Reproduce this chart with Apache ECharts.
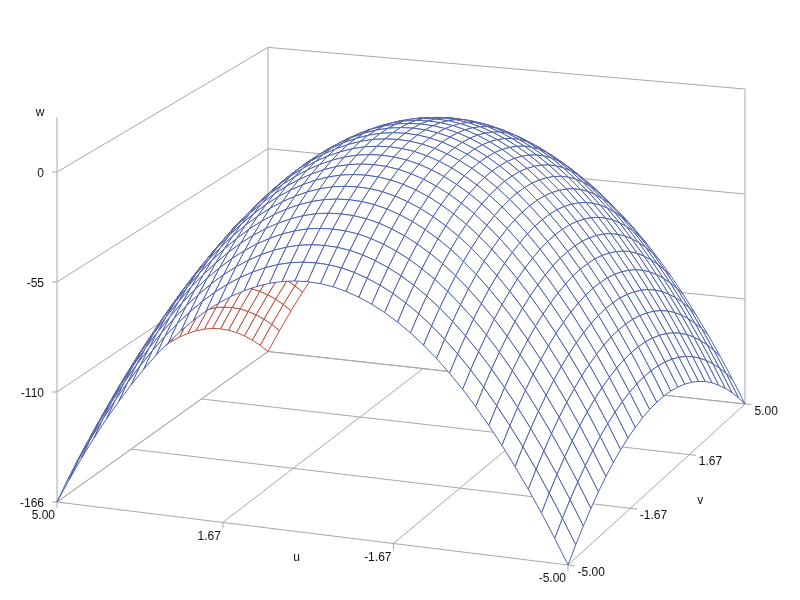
<!DOCTYPE html>
<html><head><meta charset="utf-8">
<style>html,body{margin:0;padding:0;background:#fff}#c{width:800px;height:600px}</style>
<script src="https://cdn.jsdelivr.net/npm/echarts@6/dist/echarts.min.js"></script>
</head><body><div id="c"></div>
<script>
// ---- data ----
const uValues = [5,4.75,4.5,4.25,4,3.75,3.5,3.25,3,2.75,2.5,2.25,2,1.75,1.5,1.25,1,0.75,0.5,0.25,0,-0.25,-0.5,-0.75,-1,-1.25,-1.5,-1.75,-2,-2.25,-2.5,-2.75,-3,-3.25,-3.5,-3.75,-4,-4.25,-4.5,-4.75,-5];
const vValues = [-5,-4.6,-4.2,-3.8,-3.4,-3,-2.6,-2.2,-1.8,-1.4,-1,-0.6,-0.2,0.2,0.6,1,1.4,1.8,2.2,2.6,3,3.4,3.8,4.2,4.6,5];
const wPeak = -0.5;
// how far the surface falls below its peak along each axis
const uDrop = [124,111.9,100.4,89.6,79.4,69.8,60.8,52.4,44.6,37.5,31,25.1,19.8,15.2,11.2,7.8,5,2.8,1.2,0.3,0,0.3,1.2,2.8,5,7.8,11.2,15.2,19.8,25.1,31,37.5,44.6,52.4,60.8,69.8,79.4,89.6,100.4,111.9,124];
const vDrop = [41.5,35.1,29.3,24,19.2,14.9,11.2,8,5.4,3.3,1.7,0.6,0.1,0.1,0.6,1.7,3.3,5.4,8,11.2,14.9,19.2,24,29.3,35.1,41.5];
const uTicks = [5,1.67,-1.67,-5];
const vTicks = [-5,-1.67,1.67,5];
const wTicks = [-166,-110.67,-55.33,0];
const uTickLabels = ['5.00','1.67','-1.67','-5.00'];
const vTickLabels = ['-5.00','-1.67','1.67','5.00'];
const wTickLabels = ['-166','-110','-55','0'];
const wAxisTop = 27.7;

// ---- camera: where the floor corners and wall height land ----
const cam = {A:[57,502],B:[568,565],C:[745,404],D:[268,351.5],height:330};
const COL = {top:'#4f62ac',under:'#bf4e3c',grid:'#a8a8a8',text:'#111'};
const FONT = '12px "Liberation Sans", Arial, sans-serif';

const sx=cam.A[0]-cam.B[0]+cam.C[0]-cam.D[0], sy=cam.A[1]-cam.B[1]+cam.C[1]-cam.D[1];
const dx1=cam.B[0]-cam.C[0], dx2=cam.D[0]-cam.C[0], dy1=cam.B[1]-cam.C[1], dy2=cam.D[1]-cam.C[1];
const det=dx1*dy2-dx2*dy1;
const G=(sx*dy2-dx2*sy)/det, H=(dx1*sy-sx*dy1)/det;
const P=[cam.A[0],cam.B[0]-cam.A[0]+G*cam.B[0],cam.D[0]-cam.A[0]+H*cam.D[0]];
const Q=[cam.A[1],cam.B[1]-cam.A[1]+G*cam.B[1],cam.D[1]-cam.A[1]+H*cam.D[1]];
function depth(u,v){return 1+G*(5-u)/10+H*(v+5)/10;}
function project(u,v,w){
  const a=(5-u)/10,b=(v+5)/10,h=(w+166)/166,W=1+G*a+H*b;
  return [(P[0]+P[1]*a+P[2]*b)/W,(Q[0]+Q[1]*a+Q[2]*b-cam.height*h)/W];
}

// ---- surface table ----
const wGrid = uDrop.map(du=>vDrop.map(dv=>wPeak-du-dv));
const cells=[];
for(let i=0;i<uValues.length-1;i++)for(let j=0;j<vValues.length-1;j++)cells.push([i,j]);
const cellDepth=c=>depth((uValues[c[0]]+uValues[c[0]+1])/2,(vValues[c[1]]+vValues[c[1]+1])/2);
cells.sort((p,q)=>cellDepth(q)-cellDepth(p));

// ---- frame segments: [u1,v1,w1,u2,v2,w2] ----
const W0=wTicks[0], WT=wTicks[3], U0=uTicks[0], U1=uTicks[3], V0=vTicks[0], V1=vTicks[3];
const seg=[];
wTicks.forEach(w=>{seg.push([U0,V0,w,U0,V1,w]);seg.push([U0,V1,w,U1,V1,w]);});
uTicks.forEach(u=>seg.push([u,V0,W0,u,V1,W0]));
vTicks.forEach(v=>seg.push([U0,v,W0,U1-0.13,v,W0]));
seg.push([U0,V1,W0,U0,V1,WT]);
seg.push([U1,V1,W0,U1,V1,WT]);
seg.push([U0,V0,W0,U0,V0,wAxisTop]);

// ---- small pixel-offset marks and texts, anchored to projected ticks ----
const ticks=[];
uTicks.forEach(u=>ticks.push({p:[u,V0,W0],dx:0,dy:6}));
wTicks.forEach(w=>ticks.push({p:[U0,V0,w],dx:-5,dy:0}));
const texts=[];
uTicks.forEach((u,i)=>texts.push({p:[u,V0,W0],dx:-2,dy:14,t:uTickLabels[i],al:'right'}));
vTicks.forEach((v,i)=>texts.push({p:[U1,v,W0],dx:9.5,dy:7.5,t:vTickLabels[i],al:'left'}));
wTicks.forEach((w,i)=>texts.push({p:[U0,V0,w],dx:-13,dy:1.5,t:wTickLabels[i],al:'right'}));
texts.push({p:[0,V0,W0],dx:-11,dy:25,t:'u',al:'center'});
texts.push({p:[U1,0,W0],dx:40,dy:20,t:'v',al:'center'});
texts.push({p:[U0,V0,wAxisTop],dx:-17,dy:-4,t:'w',al:'center'});

const chart=echarts.init(document.getElementById('c'),null,{renderer:'canvas'});
chart.setOption({
  animation:false,
  backgroundColor:'#fff',
  grid:{left:0,right:0,top:0,bottom:0},
  xAxis:{type:'value',min:0,max:800,show:false},
  yAxis:{type:'value',min:0,max:600,inverse:true,show:false},
  series:[
   {type:'custom',name:'frame',silent:true,clip:false,z:1,
    data:seg.map((s,i)=>[i]),
    renderItem(params,api){
      const s=seg[api.value(0)];
      const a=api.coord(project(s[0],s[1],s[2])),b=api.coord(project(s[3],s[4],s[5]));
      return {type:'line',shape:{x1:a[0],y1:a[1],x2:b[0],y2:b[1]},style:{stroke:COL.grid,lineWidth:1}};
    }},
   {type:'custom',name:'ticks',silent:true,clip:false,z:1,
    data:ticks.map((s,i)=>[i]),
    renderItem(params,api){
      const s=ticks[api.value(0)];
      const a=api.coord(project(s.p[0],s.p[1],s.p[2]));
      return {type:'line',shape:{x1:a[0],y1:a[1],x2:a[0]+s.dx,y2:a[1]+s.dy},style:{stroke:COL.grid,lineWidth:1}};
    }},
   {type:'custom',name:'surface',silent:true,clip:false,z:2,
    data:cells,
    renderItem(params,api){
      const i=api.value(0),j=api.value(1);
      const pts=[[i,j],[i+1,j],[i+1,j+1],[i,j+1]].map(c=>project(uValues[c[0]],vValues[c[1]],wGrid[c[0]][c[1]]));
      let area=0;
      for(let k=0;k<4;k++){const p=pts[k],q=pts[(k+1)%4];area+=p[0]*q[1]-q[0]*p[1];}
      return {type:'polygon',shape:{points:pts.map(p=>api.coord(p))},
        style:{fill:'#fff',stroke:area<0?COL.top:COL.under,lineWidth:1}};
    }},
   {type:'custom',name:'labels',silent:true,clip:false,z:3,
    data:texts.map((s,i)=>[i]),
    renderItem(params,api){
      const s=texts[api.value(0)];
      const a=api.coord(project(s.p[0],s.p[1],s.p[2]));
      return {type:'text',style:{x:a[0]+s.dx,y:a[1]+s.dy,text:s.t,font:FONT,fill:COL.text,align:s.al,verticalAlign:'middle'}};
    }}
  ]
});
</script></body></html>
